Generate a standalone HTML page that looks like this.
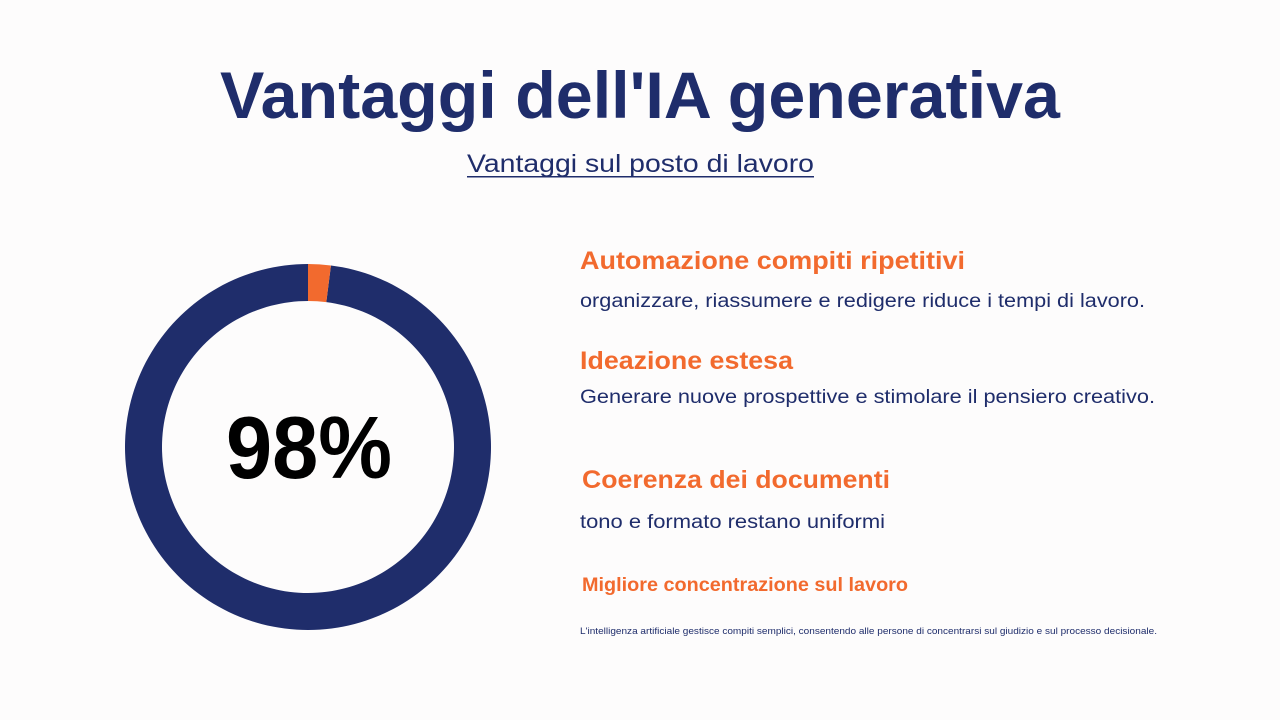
<!DOCTYPE html>
<html><head><meta charset="utf-8"><style>
html,body{margin:0;padding:0;background:#fdfcfc;}
svg{display:block;font-family:"Liberation Sans",sans-serif;}
</style></head><body>
<svg id="chart" width="1280" height="720" viewBox="0 0 1280 720">
<rect width="1280" height="720" fill="#fdfcfc"/>
<text x="220" y="118" font-size="66" font-weight="bold" fill="#1f2d6b" textLength="840" lengthAdjust="spacingAndGlyphs">Vantaggi dell'IA generativa</text>
<text x="467" y="172" font-size="25" fill="#1f2d6b" textLength="347" lengthAdjust="spacingAndGlyphs">Vantaggi sul posto di lavoro</text>
<rect x="467" y="176" width="347" height="1.5" fill="#1f2d6b"/>
<g id="donut"></g>
<text x="309" y="478" font-size="88" font-weight="bold" fill="#000" text-anchor="middle" textLength="166" lengthAdjust="spacingAndGlyphs">98%</text>
<g fill="#f26a2e" font-weight="bold">
<text x="580" y="269" font-size="25" textLength="385" lengthAdjust="spacingAndGlyphs">Automazione compiti ripetitivi</text>
<text x="580" y="369" font-size="25" textLength="213" lengthAdjust="spacingAndGlyphs">Ideazione estesa</text>
<text x="582" y="488" font-size="25" textLength="308" lengthAdjust="spacingAndGlyphs">Coerenza dei documenti</text>
<text x="582" y="591" font-size="19" textLength="326" lengthAdjust="spacingAndGlyphs">Migliore concentrazione sul lavoro</text>
</g>
<g fill="#1f2d6b">
<text x="580" y="307" font-size="19" textLength="565" lengthAdjust="spacingAndGlyphs">organizzare, riassumere e redigere riduce i tempi di lavoro.</text>
<text x="580" y="403" font-size="19" textLength="575" lengthAdjust="spacingAndGlyphs">Generare nuove prospettive e stimolare il pensiero creativo.</text>
<text x="580" y="528" font-size="19" textLength="305" lengthAdjust="spacingAndGlyphs">tono e formato restano uniformi</text>
<text x="580" y="634" font-size="9.5" textLength="577" lengthAdjust="spacingAndGlyphs">L'intelligenza artificiale gestisce compiti semplici, consentendo alle persone di concentrarsi sul giudizio e sul processo decisionale.</text>
</g>
</svg>
<script>
const share = [98, 2];
const sliceNames = ['slice-benefit', 'slice-rest'];
const sliceColors = ['#1f2d6b', '#f26a2e'];
const cx = 308, cy = 447, rO = 183, rI = 146;
const total = share.reduce((a, b) => a + b, 0);
function ang(v) { return v / total * 2 * Math.PI; }
function pt(r, a) { return [cx + r * Math.sin(a), cy - r * Math.cos(a)]; }
const g = document.getElementById('donut');
// orange slice starts at top going clockwise; navy covers the rest
let start = ang(share[1]);
const order = [0, 1];
order.forEach(i => {
  const a0 = i === 0 ? start : 0;
  const a1 = a0 + ang(share[i]);
  const [x0, y0] = pt(rO, a0), [x1, y1] = pt(rO, a1);
  const [x2, y2] = pt(rI, a1), [x3, y3] = pt(rI, a0);
  const large = (a1 - a0) > Math.PI ? 1 : 0;
  const p = document.createElementNS('http://www.w3.org/2000/svg', 'path');
  p.setAttribute('d', `M${x0},${y0} A${rO},${rO} 0 ${large} 1 ${x1},${y1} L${x2},${y2} A${rI},${rI} 0 ${large} 0 ${x3},${y3} Z`);
  p.setAttribute('fill', sliceColors[i]);
  
  
  g.appendChild(p);
});
</script>
</body></html>
